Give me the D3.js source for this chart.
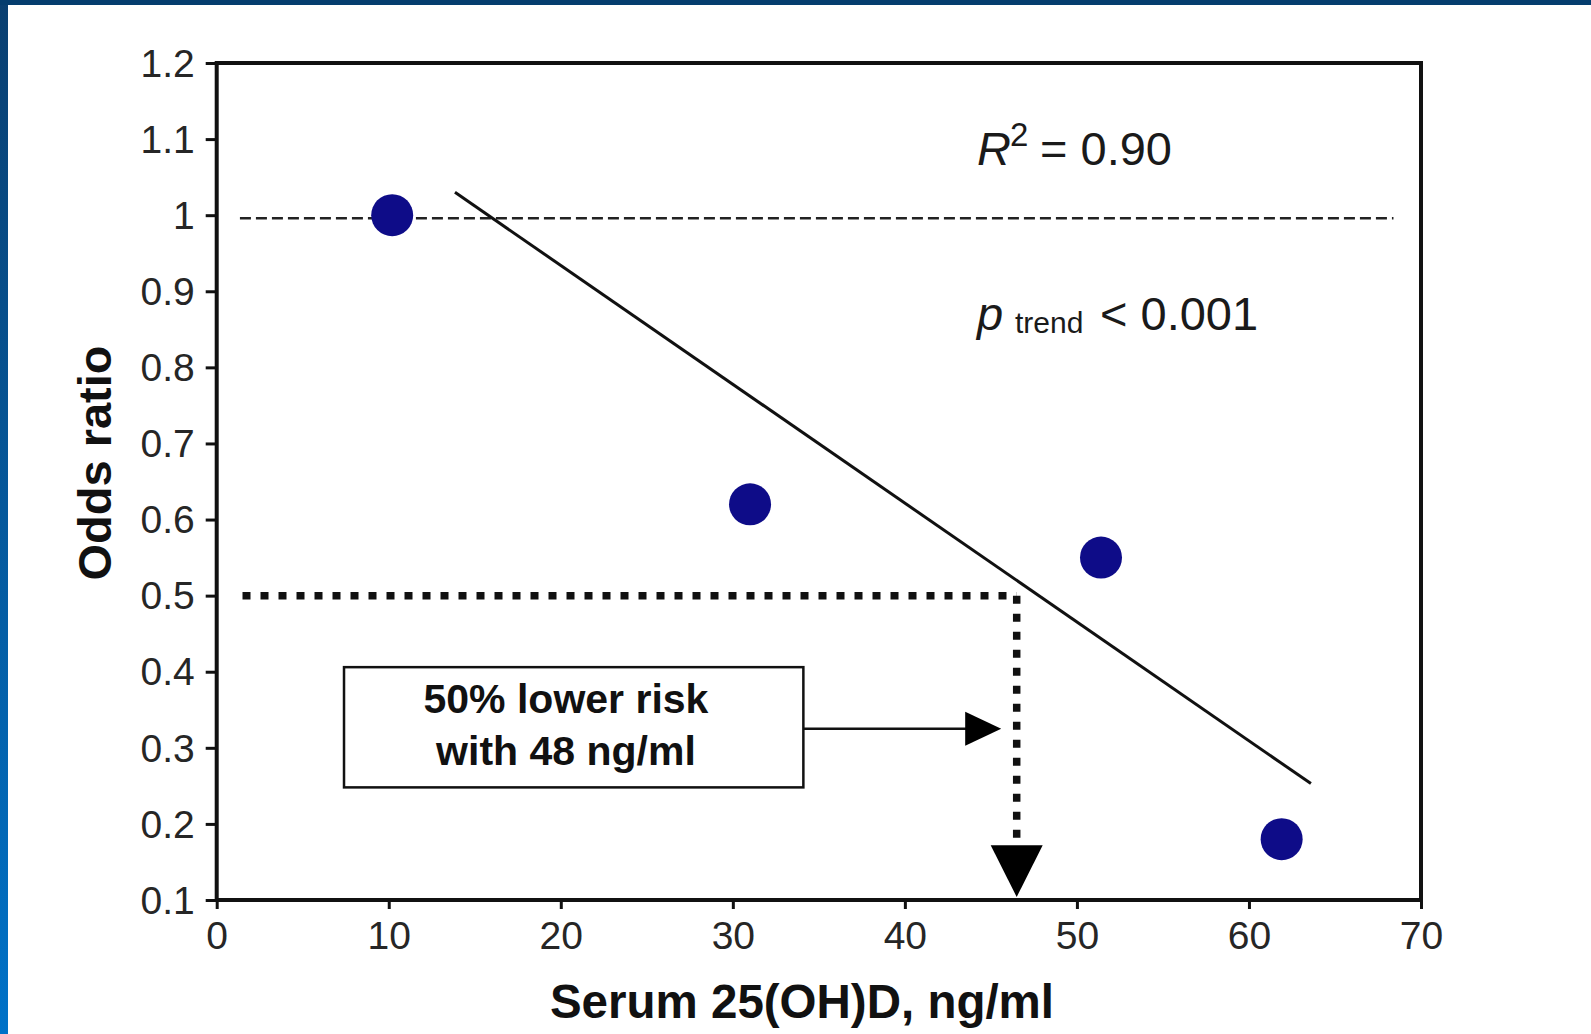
<!DOCTYPE html>
<html>
<head>
<meta charset="utf-8">
<script src="https://cdn.jsdelivr.net/npm/d3@7"></script>
<style>
  html, body { margin: 0; padding: 0; background: #fff; }
  svg { display: block; }
  text { font-family: "Liberation Sans", Arial, sans-serif; }
</style>
</head>
<body>
<div id="chart"></div>
<script>
// serum 25(OH)D (ng/ml) vs odds ratio
var serum = [10.2, 31.0, 51.4, 61.9];
var oddsRatio = [1.0, 0.62, 0.55, 0.18];

var xTicks = [0, 10, 20, 30, 40, 50, 60, 70];
var yTicks = [0.1, 0.2, 0.3, 0.4, 0.5, 0.6, 0.7, 0.8, 0.9, 1, 1.1, 1.2];
var yTickLabels = ["0.1", "0.2", "0.3", "0.4", "0.5", "0.6", "0.7", "0.8", "0.9", "1", "1.1", "1.2"];

// fitted trend line end points
var trendX = [13.85, 63.6];
var trendY = [1.03, 0.253];

var refValue = 1;       // dashed OR = 1 line
var halfRisk = 0.5;     // 50 % lower risk
var halfRiskSerum = 46.5;

var W = 1591, H = 1034;
var margin = { top: 63, right: 170, bottom: 134, left: 216.7 };

var x = d3.scaleLinear().domain([0, 70]).range([margin.left, W - margin.right]);
var y = d3.scaleLinear().domain([0.1, 1.2]).range([H - margin.bottom, margin.top]);

var svg = d3.select("#chart").append("svg")
  .attr("width", W)
  .attr("height", H);

var defs = svg.append("defs");
var grad = defs.append("linearGradient")
  .attr("id", "sideGrad")
  .attr("x1", 0).attr("y1", 0).attr("x2", 0).attr("y2", 1);
grad.append("stop").attr("offset", "0%").attr("stop-color", "#0a3f70");
grad.append("stop").attr("offset", "100%").attr("stop-color", "#0072c8");

svg.append("rect").attr("width", W).attr("height", H).attr("fill", "#fff");
svg.append("rect").attr("x", 0).attr("y", 0).attr("width", 8).attr("height", H).attr("fill", "url(#sideGrad)");
svg.append("rect").attr("x", 0).attr("y", 0).attr("width", W).attr("height", 5).attr("fill", "#053d6e");

// axes
var yAxis = d3.axisLeft(y)
  .tickValues(yTicks)
  .tickSize(11)
  .tickSizeOuter(0)
  .tickPadding(11)
  .tickFormat(function (d, i) { return yTickLabels[i]; });

var xAxis = d3.axisBottom(x)
  .tickValues(xTicks)
  .tickSize(9)
  .tickSizeOuter(0)
  .tickPadding(10)
  .tickFormat(d3.format("d"));

var gy = svg.append("g")
  .attr("transform", "translate(" + margin.left + ",0)")
  .call(yAxis);
var gx = svg.append("g")
  .attr("transform", "translate(0," + (H - margin.bottom) + ")")
  .call(xAxis);

[gx, gy].forEach(function (g) {
  g.select(".domain").remove();
  g.selectAll(".tick line").attr("stroke", "#111").attr("stroke-width", 3);
  g.selectAll(".tick text")
    .attr("fill", "#262626")
    .style("font-size", "39px");
});
gy.selectAll(".tick text").attr("dy", "0.34em");
gx.selectAll(".tick text").attr("dy", "0.76em");

// plot frame
svg.append("rect")
  .attr("x", x(0))
  .attr("y", y(1.2))
  .attr("width", x(70) - x(0))
  .attr("height", y(0.1) - y(1.2))
  .attr("fill", "none")
  .attr("stroke", "#111")
  .attr("stroke-width", 4);

// reference line at OR = 1
svg.append("line")
  .attr("x1", x(1.35)).attr("x2", x(68.4))
  .attr("y1", y(refValue) + 3).attr("y2", y(refValue) + 3)
  .attr("stroke", "#222")
  .attr("stroke-width", 2.5)
  .attr("stroke-dasharray", "11 5");

// trend line
svg.append("line")
  .attr("x1", x(trendX[0])).attr("y1", y(trendY[0]))
  .attr("x2", x(trendX[1])).attr("y2", y(trendY[1]))
  .attr("stroke", "#111")
  .attr("stroke-width", 3);

// dotted guides
svg.append("line")
  .attr("x1", x(1.5)).attr("x2", x(halfRiskSerum))
  .attr("y1", y(halfRisk)).attr("y2", y(halfRisk))
  .attr("stroke", "#111")
  .attr("stroke-width", 7.5)
  .attr("stroke-dasharray", "8 10");
svg.append("line")
  .attr("x1", x(halfRiskSerum)).attr("x2", x(halfRiskSerum))
  .attr("y1", y(halfRisk)).attr("y2", y(0.17))
  .attr("stroke", "#111")
  .attr("stroke-width", 7.5)
  .attr("stroke-dasharray", "8 10");

// down arrowhead
var ax = x(halfRiskSerum), aTip = y(0.104), aTop = y(0.172);
svg.append("path")
  .attr("d", "M" + (ax - 26) + "," + aTop + "L" + (ax + 26) + "," + aTop + "L" + ax + "," + aTip + "Z")
  .attr("fill", "#000");

// annotation box
var boxX0 = 7.4, boxX1 = 34.1, boxY0 = 0.406, boxY1 = 0.248;
svg.append("rect")
  .attr("x", x(boxX0))
  .attr("y", y(boxY0))
  .attr("width", x(boxX1) - x(boxX0))
  .attr("height", y(boxY1) - y(boxY0))
  .attr("fill", "#fff")
  .attr("stroke", "#111")
  .attr("stroke-width", 2.5);

var boxText = svg.append("text")
  .attr("text-anchor", "middle")
  .attr("fill", "#111")
  .style("font-size", "41px")
  .style("font-weight", "bold");
boxText.append("tspan").attr("x", x(20.3)).attr("y", y(0.346)).text("50% lower risk");
boxText.append("tspan").attr("x", x(20.3)).attr("y", y(0.277)).text("with 48 ng/ml");

// arrow from box
var arrY = y(0.325), arrTip = x(45.6);
svg.append("line")
  .attr("x1", x(boxX1)).attr("x2", arrTip - 34)
  .attr("y1", arrY).attr("y2", arrY)
  .attr("stroke", "#111")
  .attr("stroke-width", 2.5);
svg.append("path")
  .attr("d", "M" + (arrTip - 36) + "," + (arrY - 17) + "L" + arrTip + "," + arrY + "L" + (arrTip - 36) + "," + (arrY + 17) + "Z")
  .attr("fill", "#000");

// points
svg.selectAll("circle.pt")
  .data(serum)
  .enter().append("circle")
  .attr("class", "pt")
  .attr("cx", function (d) { return x(d); })
  .attr("cy", function (d, i) { return y(oddsRatio[i]); })
  .attr("r", 21)
  .attr("fill", "#0e0c88");

// stats text
var r2 = svg.append("text").attr("y", 165).attr("fill", "#1a1a1a").style("font-size", "47px");
r2.append("tspan").attr("x", 977).style("font-style", "italic").text("R");
r2.append("tspan").attr("x", 1010).attr("dy", -19).style("font-size", "33px").text("2");
r2.append("tspan").attr("x", 1040).attr("dy", 19).text("= 0.90");

var pt = svg.append("text").attr("y", 330).attr("fill", "#1a1a1a").style("font-size", "47px");
pt.append("tspan").attr("x", 977).style("font-style", "italic").text("p");
pt.append("tspan").attr("x", 1015).attr("dy", 3).style("font-size", "30px").text("trend");
pt.append("tspan").attr("x", 1100).attr("dy", -3).text("< 0.001");

// axis titles
svg.append("text")
  .attr("x", 802)
  .attr("y", 1018)
  .attr("text-anchor", "middle")
  .attr("fill", "#111")
  .style("font-size", "47.5px")
  .style("font-weight", "bold")
  .text("Serum 25(OH)D, ng/ml");

svg.append("text")
  .attr("transform", "translate(111,463) rotate(-90)")
  .attr("text-anchor", "middle")
  .attr("fill", "#111")
  .style("font-size", "47px")
  .style("font-weight", "bold")
  .text("Odds ratio");
</script>
</body>
</html>
